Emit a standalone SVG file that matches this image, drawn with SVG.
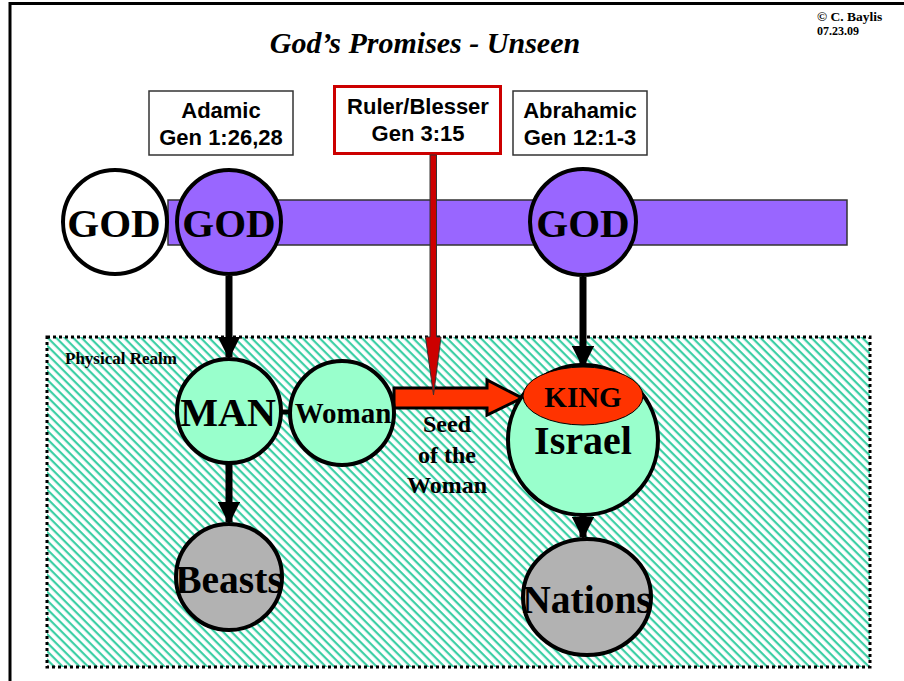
<svg xmlns="http://www.w3.org/2000/svg" width="904" height="681" viewBox="0 0 904 681">
<style>
.t{font-family:"Liberation Serif","Times New Roman",serif;font-weight:bold;text-anchor:middle;fill:#000}
.a{font-family:"Liberation Sans",Arial,sans-serif;font-weight:bold;text-anchor:middle;fill:#000;font-size:22px}
.c{stroke:#000;stroke-width:4}
.box{fill:#fff;stroke:#333;stroke-width:1.5}
.blk{stroke:#000;stroke-width:7;fill:none}
</style>
<defs>
<pattern id="stripes" width="6" height="6" patternUnits="userSpaceOnUse" patternTransform="rotate(45)">
<rect width="6" height="6" fill="#fff"/>
<rect width="6" height="2.2" fill="#3ccfa5"/>
</pattern>
<marker id="ah" viewBox="0 0 10 10" refX="9" refY="5" markerWidth="3.2" markerHeight="3.2" orient="auto" markerUnits="strokeWidth">
<path d="M0,0 L10,5 L0,10 z" fill="#000"/>
</marker>
</defs>
<rect width="904" height="681" fill="#fff"/>
<path d="M10,681 V3.5 H904" fill="none" stroke="#000" stroke-width="3"/>
<text x="425" y="53" class="t" font-size="30" font-style="italic">God’s Promises - Unseen</text>
<text x="817" y="21" font-family="Liberation Serif,serif" font-weight="bold" font-size="13.5">© C. Baylis</text>
<text x="817" y="35" font-family="Liberation Serif,serif" font-weight="bold" font-size="12">07.23.09</text>

<g id="realm">
<rect x="47" y="337" width="823" height="330" fill="url(#stripes)" stroke="#000" stroke-width="3" stroke-dasharray="3,3"/>
<text x="65" y="364" font-family="Liberation Serif,serif" font-weight="bold" font-size="17">Physical Realm</text>
</g>

<g id="bar"><rect x="168" y="200" width="679" height="45" fill="#9966ff" stroke="#333" stroke-width="1.5"/></g>

<g id="box-adamic"><rect class="box" x="149" y="91" width="144" height="64"/>
<text class="a" x="221" y="118">Adamic</text><text class="a" x="221" y="145">Gen 1:26,28</text></g>
<g id="box-ruler"><rect x="334.5" y="86.5" width="166" height="67" fill="#fff" stroke="#cc0000" stroke-width="3"/>
<text class="a" x="418" y="114">Ruler/Blesser</text><text class="a" x="418" y="141">Gen 3:15</text></g>
<g id="box-abrahamic"><rect class="box" x="513" y="91" width="134" height="64"/>
<text class="a" x="580" y="118">Abrahamic</text><text class="a" x="580" y="145">Gen 12:1-3</text></g>

<g id="connectors">
<line class="blk" x1="229" y1="276" x2="229" y2="357" marker-end="url(#ah)"/>
<line class="blk" x1="583" y1="277" x2="583" y2="366" marker-end="url(#ah)"/>
<line class="blk" x1="229" y1="464" x2="229" y2="522" marker-end="url(#ah)"/>
<line class="blk" x1="583" y1="515" x2="583" y2="537" marker-end="url(#ah)"/>
<line x1="280" y1="412" x2="291" y2="412" stroke="#000" stroke-width="5"/>
<path d="M394,388 H487 V380 L522,398 L487,415 V408 H394 Z" fill="#ff3300" stroke="#000" stroke-width="3" stroke-linejoin="miter"/>
<path d="M430,155 H436.5 V337 H441 L433.5,395 L425.5,337 H430 Z" fill="#cc0000" stroke="#333" stroke-width="1"/>
</g>

<g id="god-white"><circle class="c" cx="115" cy="222" r="52" fill="#fff"/><text class="t" x="114" y="237" font-size="41">GOD</text></g>
<g id="god-adamic"><circle class="c" cx="229" cy="222" r="52" fill="#9966ff"/><text class="t" x="229" y="237" font-size="41">GOD</text></g>
<g id="god-abrahamic"><circle class="c" cx="583" cy="222" r="53" fill="#9966ff"/><text class="t" x="583" y="237" font-size="41">GOD</text></g>

<g id="man"><circle class="c" cx="229" cy="411" r="52" fill="#99ffcc"/><text class="t" x="228" y="426" font-size="40">MAN</text></g>
<g id="woman"><circle class="c" cx="342" cy="413" r="52" fill="#99ffcc"/><text class="t" x="343" y="423" font-size="29">Woman</text></g>
<g id="seed"><text class="t" x="447" y="432" font-size="24">Seed</text><text class="t" x="447" y="463" font-size="24">of the</text><text class="t" x="447" y="493" font-size="24">Woman</text></g>
<g id="israel"><circle class="c" cx="583" cy="440" r="75" fill="#99ffcc"/><text class="t" x="583" y="454" font-size="40">Israel</text></g>
<g id="king"><ellipse cx="583" cy="396" rx="60" ry="29" fill="#ff3300" stroke="#000" stroke-width="1"/><text class="t" x="583" y="407" font-size="29">KING</text></g>
<g id="beasts"><circle class="c" cx="229" cy="577" r="53" fill="#b2b2b2"/><text class="t" x="229" y="593" font-size="39.5">Beasts</text></g>
<g id="nations"><ellipse class="c" cx="587" cy="597" rx="64" ry="58" fill="#b2b2b2"/><text class="t" x="587" y="613" font-size="39.5">Nations</text></g>
</svg>
